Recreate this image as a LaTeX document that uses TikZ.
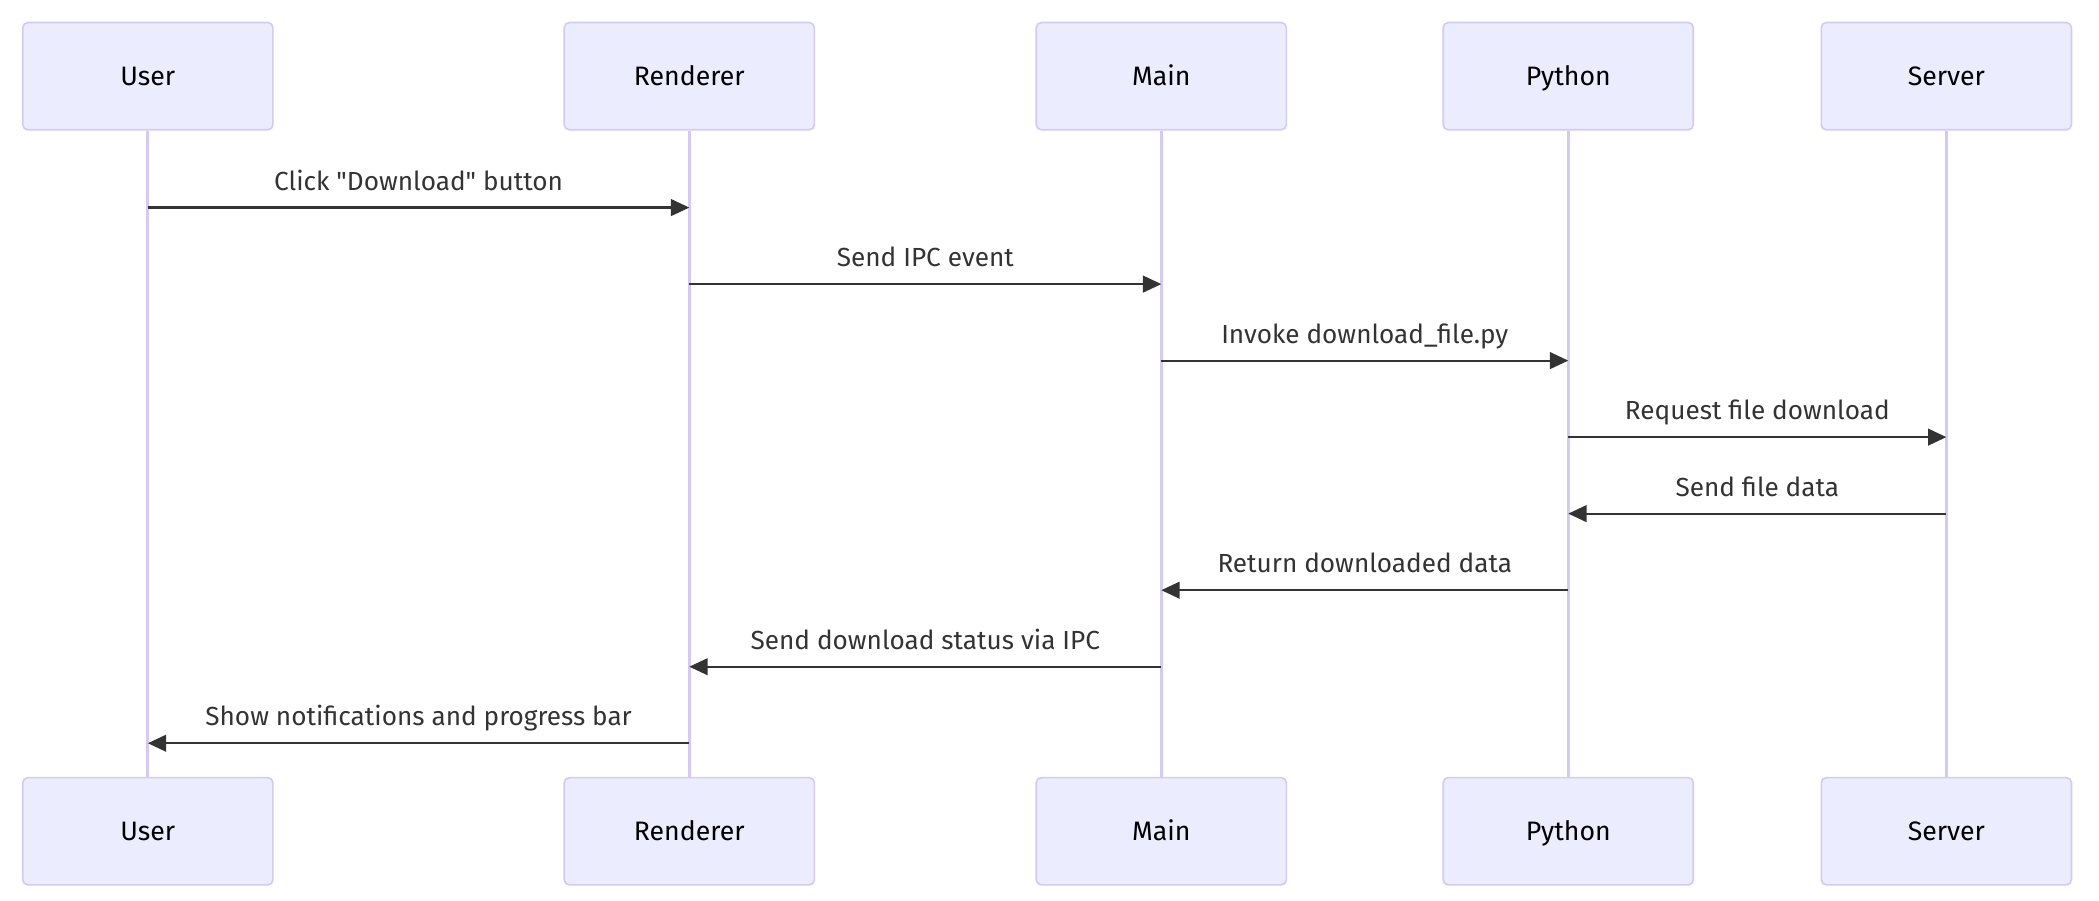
\documentclass[tikz,border=0pt]{standalone}
\usepackage{fontspec}
\setmainfont{Fira Sans}
\usepackage{xcolor}
\usepackage{tikz}
\usetikzlibrary{arrows.meta}
\definecolor{actorfill}{HTML}{ECECFF}
\definecolor{actorline}{HTML}{D5CAF3}
\definecolor{signal}{HTML}{333333}
\tikzstyle{actor} = [rectangle, rounded corners=3pt,
minimum width=5.272cm,
minimum height=2.26cm,
text centered,
text height=11pt,
text depth=0pt,
font=\fontsize{16}{19}\selectfont,
draw=actorline,
line width=1pt,
fill=actorfill]
\tikzstyle{lifeline} = [draw=actorline, line width=1.8pt]
\tikzstyle{msg} = [anchor=base, yshift=10.4pt,
font=\fontsize{15.7}{19}\selectfont,
text=signal]
\tikzstyle{arrow} = [line width=1.3pt, draw=signal,
-{Triangle[length=11pt, width=10pt]}]

\begin{document}
\begin{tikzpicture}[node distance=2cm]
\useasboundingbox (-3.117,1.606) rectangle (41.133,-17.384);

% Nodes
\node (user) [actor] {User};
\node (renderer) [actor, right of=user, xshift=9.415cm] {Renderer};
\node (main) [actor, right of=renderer, xshift=7.95cm] {Main};
\node (python) [actor, right of=main, xshift=6.579cm] {Python};
\node (server) [actor, right of=python, xshift=5.971cm] {Server};

\node (userb) [actor, below of=user, yshift=-13.918cm] {User};
\node (rendererb) [actor, below of=renderer, yshift=-13.918cm] {Renderer};
\node (mainb) [actor, below of=main, yshift=-13.918cm] {Main};
\node (pythonb) [actor, below of=python, yshift=-13.918cm] {Python};
\node (serverb) [actor, below of=server, yshift=-13.918cm] {Server};

% Lifelines
\draw [lifeline] (user) -- (userb);
\draw [lifeline] (renderer) -- (rendererb);
\draw [lifeline] (main) -- (mainb);
\draw [lifeline] (python) -- (pythonb);
\draw [lifeline] (server) -- (serverb);

% Message rows
\coordinate (r1) at (0,-2.770);
\coordinate (r2) at (0,-4.383);
\coordinate (r3) at (0,-5.996);
\coordinate (r4) at (0,-7.609);
\coordinate (r5) at (0,-9.222);
\coordinate (r6) at (0,-10.836);
\coordinate (r7) at (0,-12.449);
\coordinate (r8) at (0,-14.062);

% Arrows
\draw [arrow] (user |- r1) -- node[msg] {Click \textquotedbl Download\textquotedbl{} button} (renderer |- r1);
\draw [arrow] (renderer |- r2) -- node[msg] {Send IPC event} (main |- r2);
\draw [arrow] (main |- r3) -- node[msg] {Invoke download\_file.py} (python |- r3);
\draw [arrow] (python |- r4) -- node[msg] {Request file download} (server |- r4);
\draw [arrow] (server |- r5) -- node[msg] {Send file data} (python |- r5);
\draw [arrow] (python |- r6) -- node[msg] {Return downloaded data} (main |- r6);
\draw [arrow] (main |- r7) -- node[msg] {Send download status via IPC} (renderer |- r7);
\draw [arrow] (renderer |- r8) -- node[msg] {Show notifications and progress bar} (user |- r8);

\end{tikzpicture}
\end{document}
